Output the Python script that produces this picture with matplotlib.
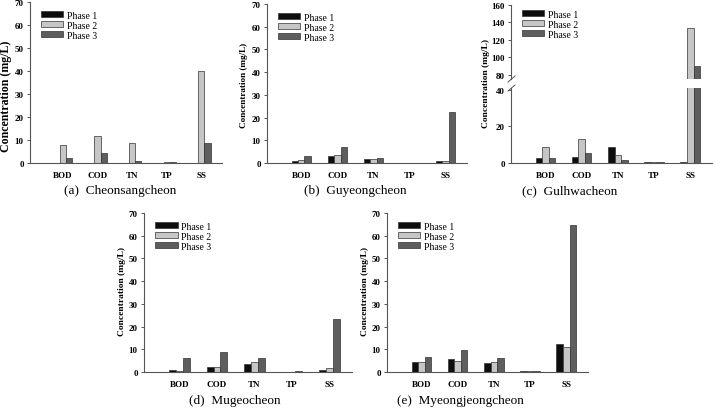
import numpy as np
import matplotlib
matplotlib.use("Agg")
import matplotlib.pyplot as plt

params = ["BOD", "COD", "TN", "TP", "SS"]
phases = ["Phase 1", "Phase 2", "Phase 3"]

cheonsang = [[0, 0, 0, 0, 0],
             [8.0, 11.7, 8.5, 0.4, 40.0],
             [2.2, 4.2, 1.0, 0.3, 8.7]]
guyeong = [[0.8, 3.1, 1.7, 0.05, 1.0],
           [1.4, 3.7, 1.7, 0.05, 1.0],
           [2.9, 7.0, 2.0, 0.2, 22.5]]
gulhwa = [[2.8, 3.3, 8.5, 0.7, 0.7],
          [8.6, 13.3, 4.4, 0.5, 134.0],
          [2.5, 5.3, 1.4, 0.4, 90.0]]
mugeo = [[0.7, 2.4, 3.6, 0.05, 1.0],
         [0.6, 2.1, 4.3, 0.05, 1.6],
         [6.3, 8.7, 6.0, 0.3, 23.5]]
myeongjeong = [[4.6, 5.7, 4.1, 0.5, 12.5],
               [4.5, 5.0, 4.4, 0.4, 11.0],
               [6.6, 9.6, 6.2, 0.6, 64.5]]

captions = ["(a)  Cheonsangcheon", "(b)  Guyeongcheon", "(c)  Gulhwacheon",
            "(d)  Mugeocheon", "(e)  Myeongjeongcheon"]

colors = ["#0d0d0d", "#c6c6c6", "#5e5e5e"]
W, H = 715, 410
serif = "Liberation Serif"


def box(x0, y0, x1, y1):
    return [x0 / W, 1 - y1 / H, (x1 - x0) / W, (y1 - y0) / H]


def style(ax, bottom=True):
    for s in ["top", "right"]:
        ax.spines[s].set_visible(False)
    for s in ["left", "bottom"]:
        ax.spines[s].set_color("#555555")
        ax.spines[s].set_linewidth(0.8)
    ax.tick_params(axis="y", length=2.5, width=0.7, color="#555555", pad=2)
    ax.tick_params(axis="x", length=0, pad=6)
    for lb in ax.get_yticklabels() + ax.get_xticklabels():
        lb.set_fontfamily(serif)
        lb.set_fontweight("bold")
        lb.set_fontsize(6.5)
    if not bottom:
        ax.spines["bottom"].set_visible(False)
        ax.set_xticks([])


def bars(ax, data):
    x = np.arange(len(params))
    w = 0.18
    for i, vals in enumerate(data):
        ax.bar(x + (i - 1) * w, vals, w, color=colors[i],
               edgecolor="#333333", linewidth=0.5, label=phases[i])
    ax.set_xlim(-0.95, 4.6)
    ax.set_xticks(x)
    ax.set_xticklabels(params)


def legend(ax, anchor):
    ax.legend(loc="upper left", bbox_to_anchor=anchor, frameon=False,
              prop={"family": serif, "size": 7}, handlelength=2.3,
              handleheight=0.55, labelspacing=0.1, handletextpad=0.4,
              borderaxespad=0)


def ylabel(x, y, size=6.6):
    fig.text(x / W, 1 - y / H, "Concentration (mg/L)", rotation=90,
             ha="center", va="center", family=serif, weight="bold", size=size)


def caption(x, y, s):
    fig.text(x / W, 1 - y / H, s, ha="center", va="center",
             family=serif, size=9.5)


fig = plt.figure(figsize=(7.15, 4.10), dpi=100)

simple = [(cheonsang, (30, 3, 222, 164), (6, 96, 8.6), (120, 191), captions[0]),
          (guyeong, (267, 5, 467, 164), (244, 85, 6.6), (355, 191), captions[1]),
          (mugeo, (144, 214, 352, 373), (122, 292, 6.8), (235, 401), captions[3]),
          (myeongjeong, (387, 214, 588, 373), (365, 292, 6.8), (460, 401), captions[4])]

for data, b, yl, cp, cap in simple:
    ax = fig.add_axes(box(*b))
    bars(ax, data)
    ax.set_ylim(0, 70)
    ax.set_yticks(range(0, 71, 10))
    style(ax)
    legend(ax, (0.035, 0.97))
    ylabel(*yl)
    caption(cp[0], cp[1], cap)

# broken axis panel (c)
ax_top = fig.add_axes(box(511, 6, 712, 80))
ax_bot = fig.add_axes(box(511, 89, 712, 164))
bars(ax_top, gulhwa)
bars(ax_bot, gulhwa)
ax_top.set_ylim(75, 160)
ax_top.set_yticks(range(80, 161, 20))
ax_bot.set_ylim(0, 41)
ax_bot.set_yticks([0, 20, 40])
style(ax_top, bottom=False)
style(ax_bot)
legend(ax_top, (0.035, 0.99))
ylabel(486, 84, 6.8)
caption(570, 191, captions[2])
# break marks on the y axis
for yy in (80, 89):
    fig.add_artist(plt.Line2D([508 / W, 515 / W],
                              [1 - (yy + 3) / H, 1 - (yy - 3) / H],
                              color="#555555", lw=0.7))

fig.savefig("out.png", dpi=100)
